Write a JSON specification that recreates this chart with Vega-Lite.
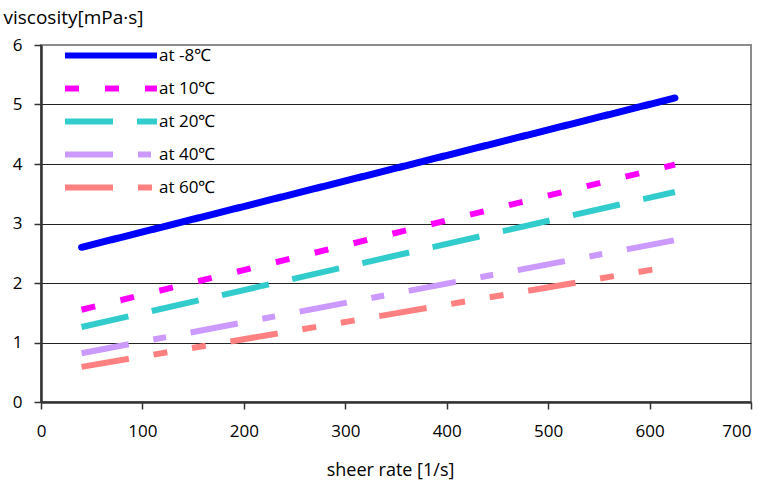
{
  "$schema": "https://vega.github.io/schema/vega-lite/v6.json",
  "width": 710,
  "height": 357,
  "autosize": {"type": "none"},
  "padding": {"left": 41, "top": 45, "right": 14, "bottom": 84},
  "background": "white",
  "config": {
    "font": "Open Sans",
    "view": {"stroke": "#8c8c8c", "strokeWidth": 2},
    "legend": {
      "orient": "none",
      "legendX": 21,
      "legendY": -2,
      "title": null,
      "symbolType": "stroke",
      "symbolSize": 8464,
      "symbolStrokeWidth": 6,
      "clipHeight": 25,
      "labelFontSize": 17,
      "labelColor": "#000000",
      "labelOffset": -1,
      "rowPadding": 8,
      "padding": 0
    }
  },
  "data": {
    "values": [
      {"series": "at -8℃", "rate": 40, "viscosity": 2.60},
      {"series": "at -8℃", "rate": 625, "viscosity": 5.11},
      {"series": "at 10℃", "rate": 40, "viscosity": 1.55},
      {"series": "at 10℃", "rate": 625, "viscosity": 3.99},
      {"series": "at 20℃", "rate": 40, "viscosity": 1.26},
      {"series": "at 20℃", "rate": 625, "viscosity": 3.53},
      {"series": "at 40℃", "rate": 40, "viscosity": 0.82},
      {"series": "at 40℃", "rate": 625, "viscosity": 2.72},
      {"series": "at 60℃", "rate": 40, "viscosity": 0.59},
      {"series": "at 60℃", "rate": 625, "viscosity": 2.29}
    ]
  },
  "encoding": {
    "x": {
      "field": "rate",
      "type": "quantitative",
      "scale": {"domain": [0, 700], "nice": false},
      "axis": {
        "values": [0, 100, 200, 300, 400, 500, 600, 700],
        "grid": false,
        "domainColor": "#333333",
        "domainWidth": 2.5,
        "tickColor": "#333333",
        "tickWidth": 1.5,
        "tickSize": 7,
        "labelFontSize": 17,
        "labelColor": "#000000",
        "labelPadding": 14,
        "labelFlush": false,
        "labelAlign": {"condition": {"test": "datum.value == 700", "value": "right"}, "value": "center"},
        "title": "sheer rate [1/s]",
        "titleFontSize": 18,
        "titleFontWeight": "normal",
        "titleColor": "#000000",
        "titleX": 349,
        "titleY": 68,
        "titleAlign": "center",
        "titleBaseline": "middle"
      }
    },
    "y": {
      "field": "viscosity",
      "type": "quantitative",
      "scale": {"domain": [0, 6], "nice": false},
      "axis": {
        "values": [0, 1, 2, 3, 4, 5, 6],
        "grid": true,
        "gridColor": {"condition": {"test": "datum.value == 6 || datum.value == 0", "value": "#8c8c8c"}, "value": "#222222"},
        "gridWidth": 1,
        "domainColor": "#333333",
        "domainWidth": 2.5,
        "tickColor": "#333333",
        "tickWidth": 1.5,
        "tickSize": 7,
        "labelFontSize": 17,
        "labelColor": "#000000",
        "labelPadding": 12,
        "title": "viscosity[mPa·s]",
        "titleAngle": 0,
        "titleX": -38,
        "titleY": -28,
        "titleAlign": "left",
        "titleBaseline": "middle",
        "titleFontSize": 19,
        "titleFontWeight": "normal",
        "titleColor": "#000000"
      }
    },
    "color": {
      "field": "series",
      "type": "nominal",
      "scale": {
        "domain": ["at -8℃", "at 10℃", "at 20℃", "at 40℃", "at 60℃"],
        "range": ["#0000ff", "#ff00ff", "#33cccc", "#cc99ff", "#ff8080"]
      },
      "legend": {"title": null}
    },
    "strokeDash": {
      "field": "series",
      "type": "nominal",
      "scale": {
        "domain": ["at -8℃", "at 10℃", "at 20℃", "at 40℃", "at 60℃"],
        "range": [[1, 0], [14, 26], [48, 24], [48, 25, 13, 25], [48, 25, 14, 25, 14, 25]]
      },
      "legend": {"title": null}
    }
  },
  "layer": [
    {
      "transform": [{"filter": "datum.series == 'at -8℃'"}],
      "mark": {"type": "line", "strokeWidth": 7, "strokeCap": "round"}
    },
    {
      "transform": [{"filter": "datum.series != 'at -8℃'"}],
      "mark": {"type": "line", "strokeWidth": 6}
    }
  ]
}
